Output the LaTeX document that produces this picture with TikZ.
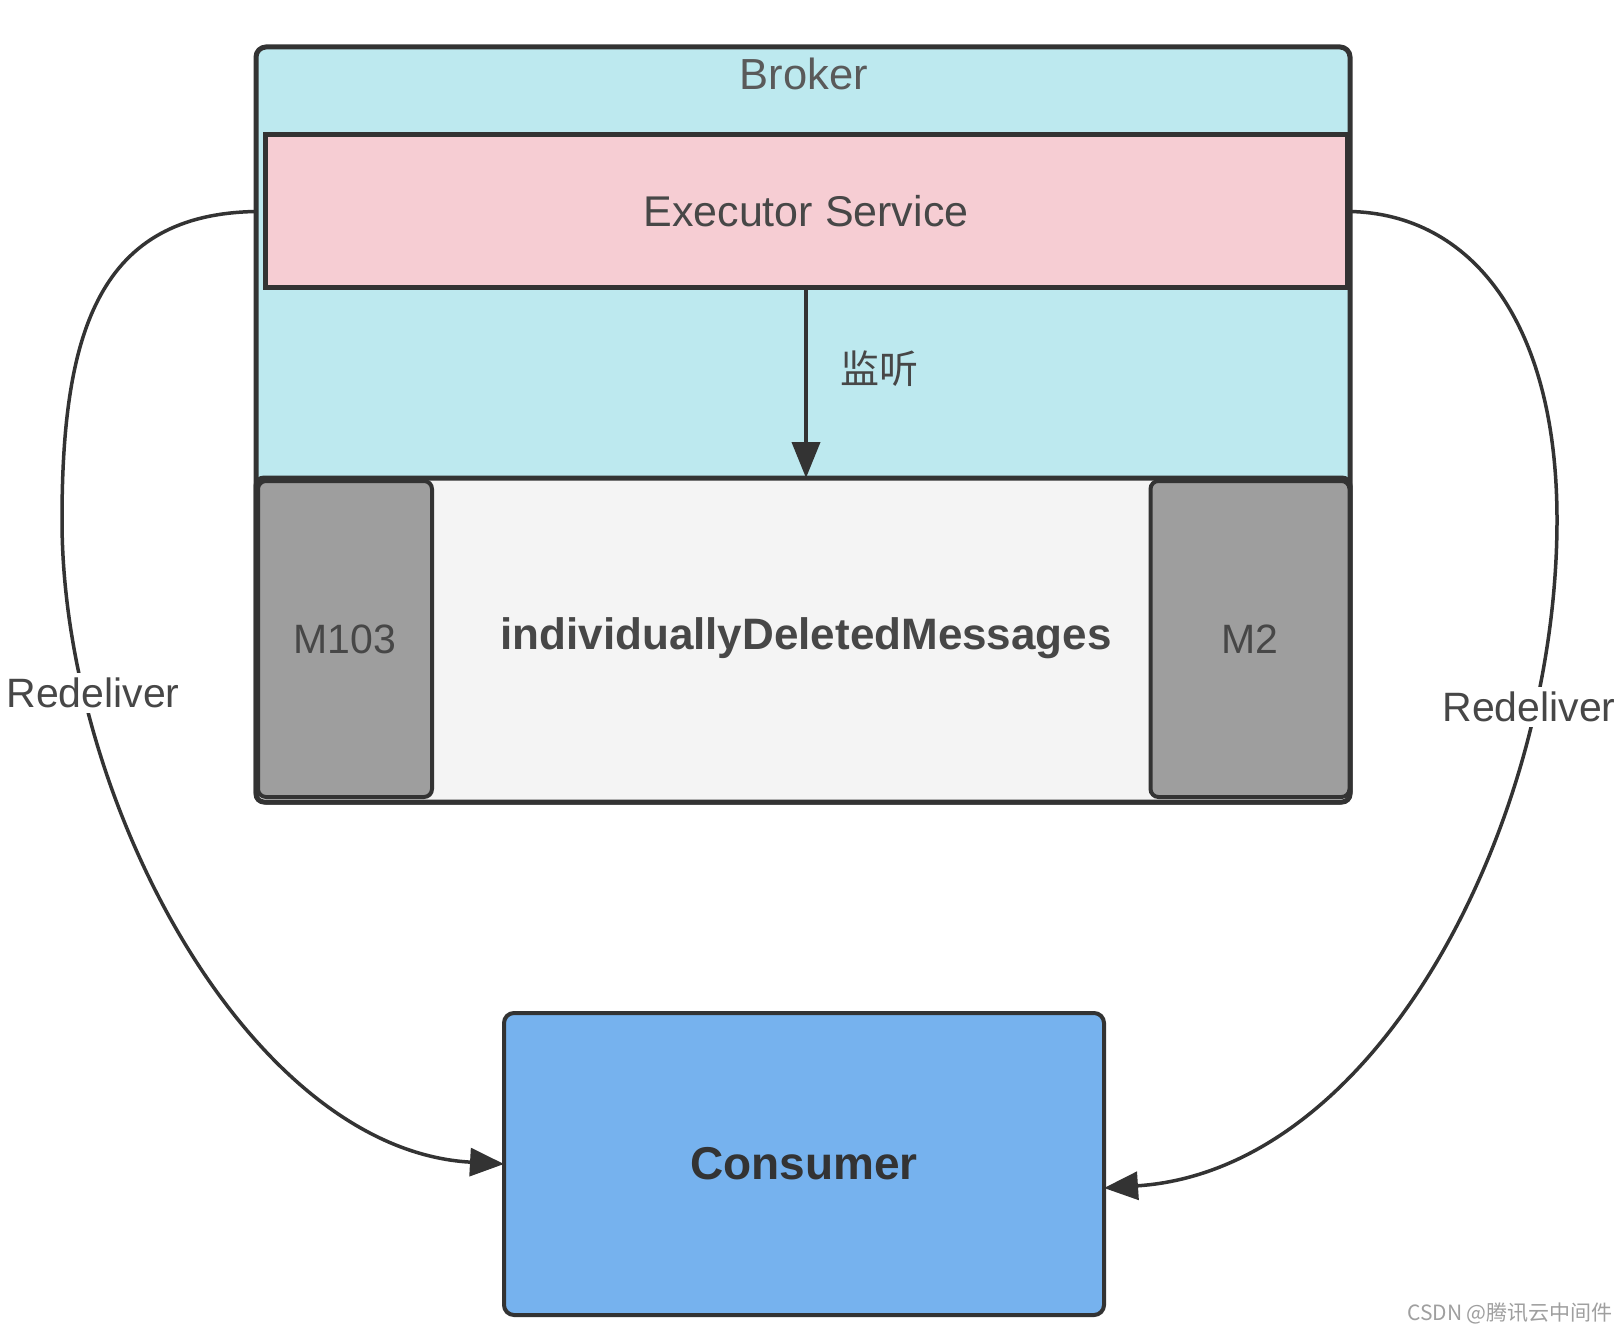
\documentclass[tikz,border=0pt]{standalone}
\usepackage{fontspec}
\setmainfont{Liberation Sans}
\newfontfamily\cjk{Noto Sans CJK SC}
\usetikzlibrary{arrows.meta}
\definecolor{bcyan}{HTML}{BDE9EF}
\definecolor{bpink}{HTML}{F6CDD3}
\definecolor{bpanel}{HTML}{F4F4F4}
\definecolor{bgray}{HTML}{9E9E9E}
\definecolor{bblue}{HTML}{76B2EE}
\definecolor{edge}{HTML}{333333}
\definecolor{txt}{HTML}{474747}
\begin{document}
\begin{tikzpicture}[x=1pt,y=-1pt,
  box/.style={draw=edge, inner sep=0pt, outer sep=0pt, text=txt},
  lab/.style={text=txt, inner sep=2pt, font=\fontsize{41}{48}\selectfont},
  curve/.style={draw=edge, line width=3.5pt, -{Triangle[length=34pt,width=28pt]}}]
\useasboundingbox (0,0) rectangle (1622,1332);
\fill[white] (0,0) rectangle (1622,1332);
% Broker
\node[box, fill=bcyan, line width=5pt, rounded corners=10pt, minimum width=1094pt, minimum height=755pt] (broker) at (803,424.5) {};
\node[lab, font=\fontsize{43.5}{48}\selectfont, text=txt!90] (brokerlabel) at (804,74) {Broker};
% Executor
\node[box, fill=bpink, line width=5pt, minimum width=1082pt, minimum height=153pt, font=\fontsize{43}{48}\selectfont] (exec) at (806,211.5) {Executor Service};
% Panel
\node[box, fill=bpanel, line width=5pt, rounded corners=8pt, minimum width=1094pt, minimum height=324pt] (panel) at (803,640) {};
\node[lab, font=\fontsize{44}{50}\selectfont\bfseries, text=edge!90] (idm) at (806,638) {individuallyDeletedMessages};
\node[box, fill=bgray, line width=4pt, rounded corners=8pt, minimum width=174pt, minimum height=316pt, font=\fontsize{41}{48}\selectfont] (m103) at (345,639) {M103};
\node[box, fill=bgray, line width=4pt, rounded corners=8pt, minimum width=199pt, minimum height=316pt, font=\fontsize{41}{48}\selectfont] (m2) at (1250,639) {M2};
% Consumer
\node[box, fill=bblue, line width=4pt, rounded corners=10pt, minimum width=600pt, minimum height=302pt, font=\bfseries\fontsize{46}{52}\selectfont, text=edge] (cons) at (804,1164) {Consumer};
% listen arrow
\draw[draw=edge, line width=4pt, -{Triangle[length=36pt,width=28pt]}] (exec.south) -- (exec.south |- panel.north);
\node[lab, font=\cjk\fontsize{39}{44}\selectfont] (listen) at (879,369) {监听};
% curves
\coordinate (ls) at (broker.west |- exec.center);
\coordinate (rs) at (broker.east |- exec.center);
\draw[curve] (ls) .. controls (100,214) and (62,330) .. (62,520)
  .. controls (62,800) and (250,1150) .. (cons.west);
\draw[curve] (rs) .. controls (1470,214) and (1557,320) .. (1557,520)
  .. controls (1557,820) and (1380,1170) .. ([yshift=-24pt]cons.east);
\node[lab, fill=white, inner sep=5pt] (rl) at (93,693) {Redeliver};
\node[lab, fill=white, inner sep=5pt] (rr) at (1529,707) {Redeliver};
% watermark
\node[text=gray!75, inner sep=0pt, font=\cjk\fontsize{21}{24}\selectfont] (wm) at (1510,1313) {CSDN @腾讯云中间件};
\end{tikzpicture}
\end{document}
